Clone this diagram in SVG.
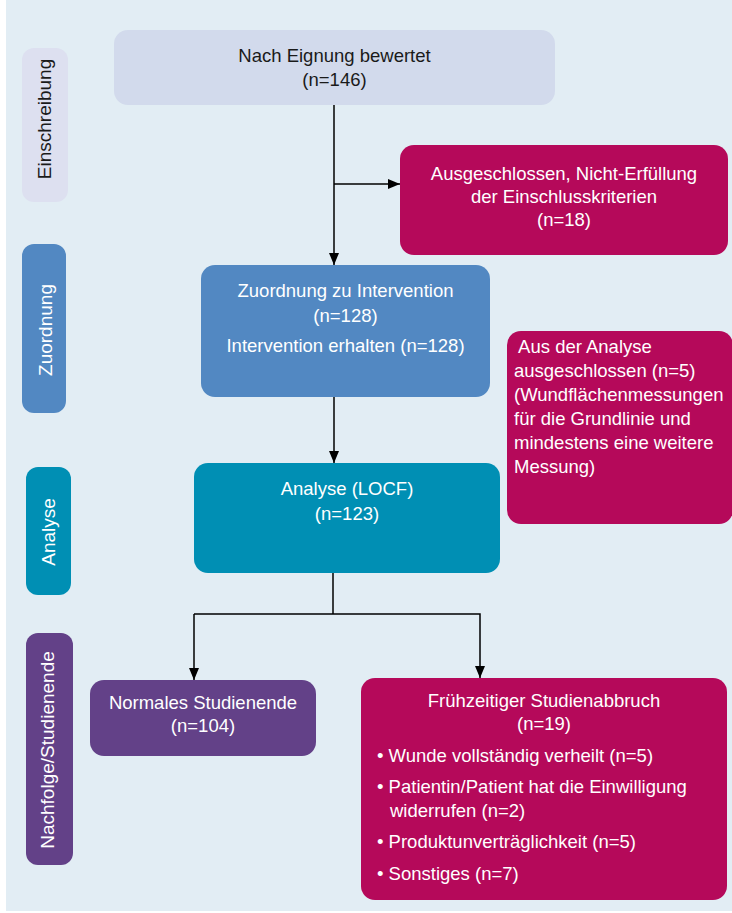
<svg xmlns="http://www.w3.org/2000/svg" width="732" height="913" viewBox="0 0 732 913">
<defs>
<marker id="ah" viewBox="0 0 12 12" refX="12" refY="6" markerWidth="12" markerHeight="12" markerUnits="userSpaceOnUse" orient="auto">
<path d="M0,1 L12,6 L0,11 Z" fill="#000"/>
</marker>
<style>
text{font-family:"Liberation Sans",Arial,sans-serif;font-size:18.5px;}
.w{fill:#fff;}
.d{fill:#1a1a1a;}
.c{text-anchor:middle;}
.lab{font-size:19px;text-anchor:middle;}
.conn{fill:none;stroke:#000;stroke-width:1.5;}
.mag{fill:#b5095a;}
</style>
</defs>
<rect x="6" y="0" width="726" height="911" fill="#e2edf4"/>

<g id="label-einschreibung">
<rect x="22" y="48" width="46" height="154" rx="12" fill="#dde0f0"/>
<text class="lab d" transform="translate(51,119) rotate(-90)">Einschreibung</text>
</g>
<g id="label-zuordnung">
<rect x="22" y="244" width="44" height="169" rx="12" fill="#5288c2"/>
<text class="lab w" transform="translate(52,330) rotate(-90)">Zuordnung</text>
</g>
<g id="label-analyse">
<rect x="26" y="467" width="45" height="128" rx="12" fill="#008fb4"/>
<text class="lab w" transform="translate(55,532) rotate(-90)">Analyse</text>
</g>
<g id="label-nachfolge">
<rect x="26" y="633" width="47" height="232" rx="12" fill="#634188"/>
<text class="lab w" transform="translate(54,750) rotate(-90)">Nachfolge/Studienende</text>
</g>

<g id="connectors">
<line class="conn" x1="334" y1="105" x2="334" y2="265" marker-end="url(#ah)"/>
<line class="conn" x1="334" y1="184" x2="400" y2="184" marker-end="url(#ah)"/>
<line class="conn" x1="334" y1="397" x2="334" y2="463" marker-end="url(#ah)"/>
<polyline class="conn" points="333,573 333,614"/>
<polyline class="conn" points="194,614 480,614 480,678" marker-end="url(#ah)"/>
<line class="conn" x1="194" y1="614" x2="194" y2="680" marker-end="url(#ah)"/>
</g>

<g id="node-eignung">
<rect x="114" y="30" width="441" height="75" rx="14" fill="#d2daec"/>
<text class="c d" x="334.5" y="62">Nach Eignung bewertet</text>
<text class="c d" x="334.5" y="86">(n=146)</text>
</g>
<g id="node-ausgeschlossen">
<rect class="mag" x="400" y="145" width="328" height="110" rx="14"/>
<text class="c w" x="564" y="180">Ausgeschlossen, Nicht-Erfüllung</text>
<text class="c w" x="564" y="203">der Einschlusskriterien</text>
<text class="c w" x="564" y="226">(n=18)</text>
</g>
<g id="node-zuordnung">
<rect x="201" y="265" width="289" height="132" rx="14" fill="#5288c2"/>
<text class="c w" x="345.5" y="297">Zuordnung zu Intervention</text>
<text class="c w" x="345.5" y="322">(n=128)</text>
<text class="c w" x="345.5" y="352">Intervention erhalten (n=128)</text>
</g>
<g id="node-analyse-ausgeschlossen">
<rect class="mag" x="507" y="331" width="226" height="193" rx="14"/>
<text class="w" x="514" y="353" xml:space="preserve"> Aus der Analyse</text>
<text class="w" x="514" y="377">ausgeschlossen (n=5)</text>
<text class="w" x="514" y="401">(Wundflächenmessungen</text>
<text class="w" x="514" y="425">für die Grundlinie und</text>
<text class="w" x="514" y="449">mindestens eine weitere</text>
<text class="w" x="514" y="473">Messung)</text>
</g>
<g id="node-analyse">
<rect x="194" y="463" width="306" height="110" rx="14" fill="#008fb4"/>
<text class="c w" x="347" y="495">Analyse (LOCF)</text>
<text class="c w" x="347" y="520">(n=123)</text>
</g>
<g id="node-normal">
<rect x="90" y="680" width="226" height="76" rx="14" fill="#634188"/>
<text class="c w" x="203" y="709">Normales Studienende</text>
<text class="c w" x="203" y="732">(n=104)</text>
</g>
<g id="node-abbruch">
<rect class="mag" x="361" y="678" width="366" height="222" rx="14"/>
<text class="c w" x="544" y="707">Frühzeitiger Studienabbruch</text>
<text class="c w" x="544" y="730">(n=19)</text>
<text class="w" x="377" y="762">• Wunde vollständig verheilt (n=5)</text>
<text class="w" x="377" y="793">• Patientin/Patient hat die Einwilligung</text>
<text class="w" x="390" y="817">widerrufen (n=2)</text>
<text class="w" x="377" y="848">• Produktunverträglichkeit (n=5)</text>
<text class="w" x="377" y="880">• Sonstiges (n=7)</text>
</g>
</svg>
